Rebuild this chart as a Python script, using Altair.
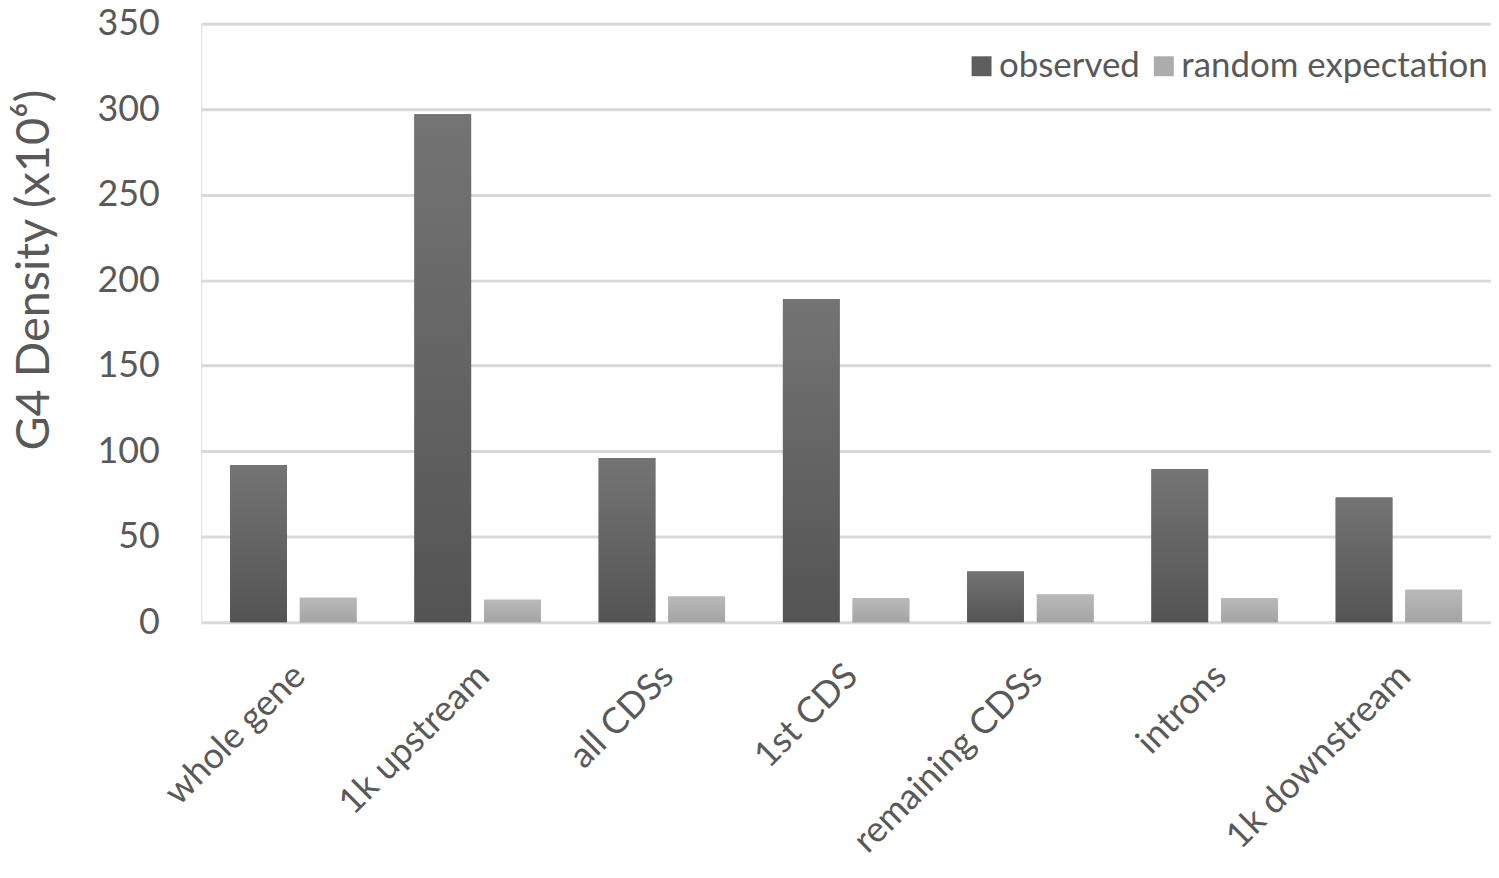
import altair as alt
import pandas as pd

categories = ["whole gene", "1k upstream", "all CDSs", "1st CDS",
              "remaining CDSs", "introns", "1k downstream"]
observed = [92, 297, 96, 189, 29.7, 89.6, 73]
random_exp = [14.3, 13.1, 15, 14, 16.2, 14, 19]
series = ["observed", "random expectation"]
y_ticks = [0, 50, 100, 150, 200, 250, 300, 350]

rows = []
for c, o, r in zip(categories, observed, random_exp):
    rows.append({"category": c, "series": series[0], "value": o})
    rows.append({"category": c, "series": series[1], "value": r})
df = pd.DataFrame(rows)

FONT = "Lato"
TXT = "#595959"

x_enc = alt.X(
    "category:N", sort=categories,
    scale=alt.Scale(paddingInner=0.314, paddingOuter=0.157),
    axis=alt.Axis(title=None, labelAngle=-45, labelAlign="right", labelBaseline="top",
                  labelFontSize=36, labelColor=TXT, labelFont=FONT, labelPadding=36,
                  labelOffset=-6,
                  domain=False, ticks=False, grid=False, labelLimit=400),
)
xo_enc = alt.XOffset("series:N", sort=series,
                     scale=alt.Scale(domain=series, paddingInner=0.186, paddingOuter=0))
y_enc = alt.Y(
    "value:Q", scale=alt.Scale(domain=[0, 350], nice=False),
    axis=alt.Axis(values=y_ticks, title="G4 Density (x10⁶)", titleFontSize=47,
                  titleFont=FONT, titleColor=TXT, titleFontWeight="normal",
                  titleX=-167, titleY=247, titleAngle=-90, titleBaseline="middle",
                  titleAlign="center",
                  labelFontSize=36, labelColor=TXT, labelFont=FONT, labelPadding=42,
                  domain=False, ticks=False, gridColor="#d9d9d9", gridWidth=3),
)

base = alt.Chart(df)

solid = base.mark_bar().encode(
    x=x_enc, xOffset=xo_enc, y=y_enc,
    color=alt.Color("series:N", sort=series,
                    scale=alt.Scale(domain=series, range=["#5e5e5e", "#acacac"]),
                    legend=alt.Legend(title=None, orient="none", direction="horizontal",
                                      legendX=766, legendY=25, symbolType="square",
                                      symbolSize=400, symbolStrokeWidth=0,
                                      labelFontSize=35, labelFont=FONT, labelColor=TXT,
                                      labelOffset=0, columnPadding=6, labelLimit=500)),
)

grad_obs = alt.LinearGradient(
    gradient="linear", x1=0, x2=0, y1=0, y2=1,
    stops=[alt.GradientStop(color="#747474", offset=0),
           alt.GradientStop(color="#545454", offset=1)])
grad_rnd = alt.LinearGradient(
    gradient="linear", x1=0, x2=0, y1=0, y2=1,
    stops=[alt.GradientStop(color="#b9b9b9", offset=0),
           alt.GradientStop(color="#a4a4a4", offset=1)])

obs_layer = base.transform_filter(alt.datum.series == series[0]).mark_bar(fill=grad_obs).encode(
    x=x_enc, xOffset=xo_enc, y=y_enc)
rnd_layer = base.transform_filter(alt.datum.series == series[1]).mark_bar(fill=grad_rnd).encode(
    x=x_enc, xOffset=xo_enc, y=y_enc)

chart = alt.layer(solid, obs_layer, rnd_layer).properties(
    width=1295, height=601,
    autosize=alt.AutoSizeParams(type="none"),
    padding={"left": 194, "top": 14, "right": 0, "bottom": 241},
).configure_view(stroke=None).configure(background="white")

chart.save("out.html", embed_options={"renderer": "svg", "actions": False})
